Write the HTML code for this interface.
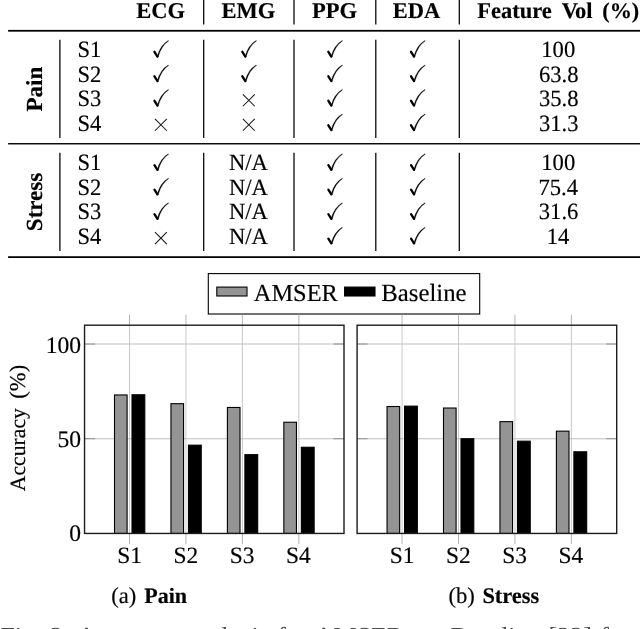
<!DOCTYPE html>
<html><head><meta charset="utf-8"><title>figure</title>
<style>
html,body{margin:0;padding:0;background:#fff;}
body{width:640px;height:629px;overflow:hidden;font-family:"Liberation Serif",serif;}
svg{display:block;font-family:"Liberation Serif",serif;will-change:transform;}
svg text{fill:#000;stroke:#000;stroke-width:0.16px;text-rendering:geometricPrecision;}
</style></head><body>
<svg width="640" height="629" viewBox="0 0 640 629">
<rect width="640" height="629" fill="#fff"/>
<text x="136.21" y="17.70" font-size="22.5" font-weight="bold" >ECG</text>
<text x="221.47" y="17.70" font-size="22.5" font-weight="bold" >EMG</text>
<text x="311.99" y="17.70" font-size="22.5" font-weight="bold" >PPG</text>
<text x="392.86" y="17.70" font-size="22.5" font-weight="bold" >EDA</text>
<text x="477.27" y="17.70" font-size="22.5" font-weight="bold" >Feature</text>
<text x="561.8" y="17.7" font-size="22.5" font-weight="bold">V<tspan dx="-0.9">ol</tspan></text>
<text x="602.31" y="17.70" font-size="22.2" font-weight="bold" >(%)</text>
<line x1="203.7" y1="0" x2="203.7" y2="24.6" stroke="#000" stroke-width="1.25"/>
<line x1="294.0" y1="0" x2="294.0" y2="24.6" stroke="#000" stroke-width="1.25"/>
<line x1="375.8" y1="0" x2="375.8" y2="24.6" stroke="#000" stroke-width="1.25"/>
<line x1="459.3" y1="0" x2="459.3" y2="24.6" stroke="#000" stroke-width="1.25"/>
<line x1="59.9" y1="39.8" x2="59.9" y2="138.0" stroke="#000" stroke-width="1.25"/>
<line x1="59.9" y1="152.8" x2="59.9" y2="251.0" stroke="#000" stroke-width="1.25"/>
<line x1="203.7" y1="39.8" x2="203.7" y2="138.0" stroke="#000" stroke-width="1.25"/>
<line x1="203.7" y1="152.8" x2="203.7" y2="251.0" stroke="#000" stroke-width="1.25"/>
<line x1="294.0" y1="39.8" x2="294.0" y2="138.0" stroke="#000" stroke-width="1.25"/>
<line x1="294.0" y1="152.8" x2="294.0" y2="251.0" stroke="#000" stroke-width="1.25"/>
<line x1="375.8" y1="39.8" x2="375.8" y2="138.0" stroke="#000" stroke-width="1.25"/>
<line x1="375.8" y1="152.8" x2="375.8" y2="251.0" stroke="#000" stroke-width="1.25"/>
<line x1="459.3" y1="39.8" x2="459.3" y2="138.0" stroke="#000" stroke-width="1.25"/>
<line x1="459.3" y1="152.8" x2="459.3" y2="251.0" stroke="#000" stroke-width="1.25"/>
<rect x="8.1" y="29.9" width="632" height="1.75" fill="#000"/>
<rect x="8.1" y="143.05" width="632" height="1.4" fill="#000"/>
<rect x="8.1" y="256.25" width="632" height="1.75" fill="#000"/>
<text transform="translate(42.20,111.43) rotate(-90)" font-size="23.0" font-weight="bold">Pain</text>
<text transform="translate(42.20,231.15) rotate(-90)" font-size="23.0" font-weight="bold">Stress</text>
<text transform="translate(77.44,57.00) scale(0.97,1)" font-size="23.3" >S1</text>
<path d="M154.45,51.80 L157.45,56.55" stroke="#000" stroke-width="2.3" stroke-linecap="round" fill="none"/>
<path d="M156.95,57.05 Q160.35,44.90 168.30,40.50 L168.60,41.00 Q161.45,45.60 158.25,56.85 Z" fill="#000" stroke="#000" stroke-width="0.3" stroke-linejoin="round"/>
<path d="M242.35,51.80 L245.35,56.55" stroke="#000" stroke-width="2.3" stroke-linecap="round" fill="none"/>
<path d="M244.85,57.05 Q248.25,44.90 256.20,40.50 L256.50,41.00 Q249.35,45.60 246.15,56.85 Z" fill="#000" stroke="#000" stroke-width="0.3" stroke-linejoin="round"/>
<path d="M328.35,51.80 L331.35,56.55" stroke="#000" stroke-width="2.3" stroke-linecap="round" fill="none"/>
<path d="M330.85,57.05 Q334.25,44.90 342.20,40.50 L342.50,41.00 Q335.35,45.60 332.15,56.85 Z" fill="#000" stroke="#000" stroke-width="0.3" stroke-linejoin="round"/>
<path d="M411.05,51.80 L414.05,56.55" stroke="#000" stroke-width="2.3" stroke-linecap="round" fill="none"/>
<path d="M413.55,57.05 Q416.95,44.90 424.90,40.50 L425.20,41.00 Q418.05,45.60 414.85,56.85 Z" fill="#000" stroke="#000" stroke-width="0.3" stroke-linejoin="round"/>
<text transform="translate(541.28,57.00) scale(0.97,1)" font-size="23.3" >100</text>
<text transform="translate(77.44,81.50) scale(0.97,1)" font-size="23.3" >S2</text>
<path d="M154.45,76.30 L157.45,81.05" stroke="#000" stroke-width="2.3" stroke-linecap="round" fill="none"/>
<path d="M156.95,81.55 Q160.35,69.40 168.30,65.00 L168.60,65.50 Q161.45,70.10 158.25,81.35 Z" fill="#000" stroke="#000" stroke-width="0.3" stroke-linejoin="round"/>
<path d="M242.35,76.30 L245.35,81.05" stroke="#000" stroke-width="2.3" stroke-linecap="round" fill="none"/>
<path d="M244.85,81.55 Q248.25,69.40 256.20,65.00 L256.50,65.50 Q249.35,70.10 246.15,81.35 Z" fill="#000" stroke="#000" stroke-width="0.3" stroke-linejoin="round"/>
<path d="M328.35,76.30 L331.35,81.05" stroke="#000" stroke-width="2.3" stroke-linecap="round" fill="none"/>
<path d="M330.85,81.55 Q334.25,69.40 342.20,65.00 L342.50,65.50 Q335.35,70.10 332.15,81.35 Z" fill="#000" stroke="#000" stroke-width="0.3" stroke-linejoin="round"/>
<path d="M411.05,76.30 L414.05,81.05" stroke="#000" stroke-width="2.3" stroke-linecap="round" fill="none"/>
<path d="M413.55,81.55 Q416.95,69.40 424.90,65.00 L425.20,65.50 Q418.05,70.10 414.85,81.35 Z" fill="#000" stroke="#000" stroke-width="0.3" stroke-linejoin="round"/>
<text transform="translate(538.91,81.50) scale(0.97,1)" font-size="23.3" >63.8</text>
<text transform="translate(77.44,106.00) scale(0.97,1)" font-size="23.3" >S3</text>
<path d="M154.45,100.80 L157.45,105.55" stroke="#000" stroke-width="2.3" stroke-linecap="round" fill="none"/>
<path d="M156.95,106.05 Q160.35,93.90 168.30,89.50 L168.60,90.00 Q161.45,94.60 158.25,105.85 Z" fill="#000" stroke="#000" stroke-width="0.3" stroke-linejoin="round"/>
<path d="M242.85,94.35 L254.75,106.25 M242.85,106.25 L254.75,94.35" stroke="#151515" stroke-width="1.05" fill="none"/>
<path d="M328.35,100.80 L331.35,105.55" stroke="#000" stroke-width="2.3" stroke-linecap="round" fill="none"/>
<path d="M330.85,106.05 Q334.25,93.90 342.20,89.50 L342.50,90.00 Q335.35,94.60 332.15,105.85 Z" fill="#000" stroke="#000" stroke-width="0.3" stroke-linejoin="round"/>
<path d="M411.05,100.80 L414.05,105.55" stroke="#000" stroke-width="2.3" stroke-linecap="round" fill="none"/>
<path d="M413.55,106.05 Q416.95,93.90 424.90,89.50 L425.20,90.00 Q418.05,94.60 414.85,105.85 Z" fill="#000" stroke="#000" stroke-width="0.3" stroke-linejoin="round"/>
<text transform="translate(538.91,106.00) scale(0.97,1)" font-size="23.3" >35.8</text>
<text transform="translate(77.44,130.50) scale(0.97,1)" font-size="23.3" >S4</text>
<path d="M154.95,118.85 L166.85,130.75 M154.95,130.75 L166.85,118.85" stroke="#151515" stroke-width="1.05" fill="none"/>
<path d="M242.85,118.85 L254.75,130.75 M242.85,130.75 L254.75,118.85" stroke="#151515" stroke-width="1.05" fill="none"/>
<path d="M328.35,125.30 L331.35,130.05" stroke="#000" stroke-width="2.3" stroke-linecap="round" fill="none"/>
<path d="M330.85,130.55 Q334.25,118.40 342.20,114.00 L342.50,114.50 Q335.35,119.10 332.15,130.35 Z" fill="#000" stroke="#000" stroke-width="0.3" stroke-linejoin="round"/>
<path d="M411.05,125.30 L414.05,130.05" stroke="#000" stroke-width="2.3" stroke-linecap="round" fill="none"/>
<path d="M413.55,130.55 Q416.95,118.40 424.90,114.00 L425.20,114.50 Q418.05,119.10 414.85,130.35 Z" fill="#000" stroke="#000" stroke-width="0.3" stroke-linejoin="round"/>
<text transform="translate(538.91,130.50) scale(0.97,1)" font-size="23.3" >31.3</text>
<text transform="translate(77.44,170.30) scale(0.97,1)" font-size="23.3" >S1</text>
<path d="M154.45,165.10 L157.45,169.85" stroke="#000" stroke-width="2.3" stroke-linecap="round" fill="none"/>
<path d="M156.95,170.35 Q160.35,158.20 168.30,153.80 L168.60,154.30 Q161.45,158.90 158.25,170.15 Z" fill="#000" stroke="#000" stroke-width="0.3" stroke-linejoin="round"/>
<text transform="translate(228.94,170.30) scale(0.97,1)" font-size="23.3" >N/A</text>
<path d="M328.35,165.10 L331.35,169.85" stroke="#000" stroke-width="2.3" stroke-linecap="round" fill="none"/>
<path d="M330.85,170.35 Q334.25,158.20 342.20,153.80 L342.50,154.30 Q335.35,158.90 332.15,170.15 Z" fill="#000" stroke="#000" stroke-width="0.3" stroke-linejoin="round"/>
<path d="M411.05,165.10 L414.05,169.85" stroke="#000" stroke-width="2.3" stroke-linecap="round" fill="none"/>
<path d="M413.55,170.35 Q416.95,158.20 424.90,153.80 L425.20,154.30 Q418.05,158.90 414.85,170.15 Z" fill="#000" stroke="#000" stroke-width="0.3" stroke-linejoin="round"/>
<text transform="translate(541.28,170.30) scale(0.97,1)" font-size="23.3" >100</text>
<text transform="translate(77.44,194.80) scale(0.97,1)" font-size="23.3" >S2</text>
<path d="M154.45,189.60 L157.45,194.35" stroke="#000" stroke-width="2.3" stroke-linecap="round" fill="none"/>
<path d="M156.95,194.85 Q160.35,182.70 168.30,178.30 L168.60,178.80 Q161.45,183.40 158.25,194.65 Z" fill="#000" stroke="#000" stroke-width="0.3" stroke-linejoin="round"/>
<text transform="translate(228.94,194.80) scale(0.97,1)" font-size="23.3" >N/A</text>
<path d="M328.35,189.60 L331.35,194.35" stroke="#000" stroke-width="2.3" stroke-linecap="round" fill="none"/>
<path d="M330.85,194.85 Q334.25,182.70 342.20,178.30 L342.50,178.80 Q335.35,183.40 332.15,194.65 Z" fill="#000" stroke="#000" stroke-width="0.3" stroke-linejoin="round"/>
<path d="M411.05,189.60 L414.05,194.35" stroke="#000" stroke-width="2.3" stroke-linecap="round" fill="none"/>
<path d="M413.55,194.85 Q416.95,182.70 424.90,178.30 L425.20,178.80 Q418.05,183.40 414.85,194.65 Z" fill="#000" stroke="#000" stroke-width="0.3" stroke-linejoin="round"/>
<text transform="translate(538.46,194.80) scale(0.97,1)" font-size="23.3" >75.4</text>
<text transform="translate(77.44,219.30) scale(0.97,1)" font-size="23.3" >S3</text>
<path d="M154.45,214.10 L157.45,218.85" stroke="#000" stroke-width="2.3" stroke-linecap="round" fill="none"/>
<path d="M156.95,219.35 Q160.35,207.20 168.30,202.80 L168.60,203.30 Q161.45,207.90 158.25,219.15 Z" fill="#000" stroke="#000" stroke-width="0.3" stroke-linejoin="round"/>
<text transform="translate(228.94,219.30) scale(0.97,1)" font-size="23.3" >N/A</text>
<path d="M328.35,214.10 L331.35,218.85" stroke="#000" stroke-width="2.3" stroke-linecap="round" fill="none"/>
<path d="M330.85,219.35 Q334.25,207.20 342.20,202.80 L342.50,203.30 Q335.35,207.90 332.15,219.15 Z" fill="#000" stroke="#000" stroke-width="0.3" stroke-linejoin="round"/>
<path d="M411.05,214.10 L414.05,218.85" stroke="#000" stroke-width="2.3" stroke-linecap="round" fill="none"/>
<path d="M413.55,219.35 Q416.95,207.20 424.90,202.80 L425.20,203.30 Q418.05,207.90 414.85,219.15 Z" fill="#000" stroke="#000" stroke-width="0.3" stroke-linejoin="round"/>
<text transform="translate(538.80,219.30) scale(0.97,1)" font-size="23.3" >31.6</text>
<text transform="translate(77.44,243.80) scale(0.97,1)" font-size="23.3" >S4</text>
<path d="M154.95,232.15 L166.85,244.05 M154.95,244.05 L166.85,232.15" stroke="#151515" stroke-width="1.05" fill="none"/>
<text transform="translate(228.94,243.80) scale(0.97,1)" font-size="23.3" >N/A</text>
<path d="M328.35,238.60 L331.35,243.35" stroke="#000" stroke-width="2.3" stroke-linecap="round" fill="none"/>
<path d="M330.85,243.85 Q334.25,231.70 342.20,227.30 L342.50,227.80 Q335.35,232.40 332.15,243.65 Z" fill="#000" stroke="#000" stroke-width="0.3" stroke-linejoin="round"/>
<path d="M411.05,238.60 L414.05,243.35" stroke="#000" stroke-width="2.3" stroke-linecap="round" fill="none"/>
<path d="M413.55,243.85 Q416.95,231.70 424.90,227.30 L425.20,227.80 Q418.05,232.40 414.85,243.65 Z" fill="#000" stroke="#000" stroke-width="0.3" stroke-linejoin="round"/>
<text transform="translate(546.71,243.80) scale(0.97,1)" font-size="23.3" >14</text>
<rect x="208.3" y="273.6" width="271.4" height="40.4" fill="#fff" stroke="#000" stroke-width="1.1"/>
<rect x="216.8" y="287.1" width="30.2" height="8.9" fill="#949494" stroke="#000" stroke-width="1.1"/>
<text x="253.80" y="301.00" font-size="24.4" >AMSER</text>
<rect x="344.6" y="287.1" width="30.4" height="8.9" fill="#000" stroke="#000" stroke-width="1.1"/>
<text x="381.20" y="301.00" font-size="24.8" >Baseline</text>
<line x1="129.50" y1="325.2" x2="129.50" y2="533.45" stroke="#c9c9c9" stroke-width="1"/>
<line x1="185.95" y1="325.2" x2="185.95" y2="533.45" stroke="#c9c9c9" stroke-width="1"/>
<line x1="242.40" y1="325.2" x2="242.40" y2="533.45" stroke="#c9c9c9" stroke-width="1"/>
<line x1="298.85" y1="325.2" x2="298.85" y2="533.45" stroke="#c9c9c9" stroke-width="1"/>
<line x1="84.55" y1="438.73" x2="344.0" y2="438.73" stroke="#c0c0c0" stroke-width="1.1"/>
<line x1="84.55" y1="438.73" x2="95.05" y2="438.73" stroke="#909090" stroke-width="1"/>
<line x1="333.5" y1="438.73" x2="344.0" y2="438.73" stroke="#909090" stroke-width="1"/>
<line x1="84.55" y1="344.00" x2="344.0" y2="344.00" stroke="#c0c0c0" stroke-width="1.1"/>
<line x1="84.55" y1="344.00" x2="95.05" y2="344.00" stroke="#909090" stroke-width="1"/>
<line x1="333.5" y1="344.00" x2="344.0" y2="344.00" stroke="#909090" stroke-width="1"/>
<line x1="129.50" y1="314.59999999999997" x2="129.50" y2="325.2" stroke="#b4b4b4" stroke-width="1"/>
<line x1="129.50" y1="533.45" x2="129.50" y2="544.0500000000001" stroke="#b4b4b4" stroke-width="1"/>
<line x1="185.95" y1="314.59999999999997" x2="185.95" y2="325.2" stroke="#b4b4b4" stroke-width="1"/>
<line x1="185.95" y1="533.45" x2="185.95" y2="544.0500000000001" stroke="#b4b4b4" stroke-width="1"/>
<line x1="242.40" y1="314.59999999999997" x2="242.40" y2="325.2" stroke="#b4b4b4" stroke-width="1"/>
<line x1="242.40" y1="533.45" x2="242.40" y2="544.0500000000001" stroke="#b4b4b4" stroke-width="1"/>
<line x1="298.85" y1="314.59999999999997" x2="298.85" y2="325.2" stroke="#b4b4b4" stroke-width="1"/>
<line x1="298.85" y1="533.45" x2="298.85" y2="544.0500000000001" stroke="#b4b4b4" stroke-width="1"/>
<rect x="114.50" y="394.96" width="12.6" height="138.49" fill="#949494" stroke="#000" stroke-width="1.1"/>
<rect x="132.00" y="394.77" width="12.8" height="138.68" fill="#000" stroke="#000" stroke-width="1.1"/>
<rect x="170.95" y="403.68" width="12.6" height="129.77" fill="#949494" stroke="#000" stroke-width="1.1"/>
<rect x="188.45" y="445.17" width="12.8" height="88.28" fill="#000" stroke="#000" stroke-width="1.1"/>
<rect x="227.40" y="407.47" width="12.6" height="125.98" fill="#949494" stroke="#000" stroke-width="1.1"/>
<rect x="244.90" y="454.64" width="12.8" height="78.81" fill="#000" stroke="#000" stroke-width="1.1"/>
<rect x="283.85" y="422.24" width="12.6" height="111.21" fill="#949494" stroke="#000" stroke-width="1.1"/>
<rect x="301.35" y="447.25" width="12.8" height="86.20" fill="#000" stroke="#000" stroke-width="1.1"/>
<rect x="84.55" y="325.2" width="259.45" height="208.25000000000006" fill="none" stroke="#1c1c1c" stroke-width="1.4"/>
<text x="117.14" y="563.00" font-size="23.4" >S1</text>
<text x="173.48" y="563.00" font-size="23.4" >S2</text>
<text x="229.69" y="563.00" font-size="23.4" >S3</text>
<text x="285.91" y="563.00" font-size="23.4" >S4</text>
<line x1="402.05" y1="325.2" x2="402.05" y2="533.45" stroke="#c9c9c9" stroke-width="1"/>
<line x1="458.50" y1="325.2" x2="458.50" y2="533.45" stroke="#c9c9c9" stroke-width="1"/>
<line x1="514.95" y1="325.2" x2="514.95" y2="533.45" stroke="#c9c9c9" stroke-width="1"/>
<line x1="571.40" y1="325.2" x2="571.40" y2="533.45" stroke="#c9c9c9" stroke-width="1"/>
<line x1="357.1" y1="438.73" x2="616.7" y2="438.73" stroke="#c0c0c0" stroke-width="1.1"/>
<line x1="357.1" y1="438.73" x2="367.6" y2="438.73" stroke="#909090" stroke-width="1"/>
<line x1="606.2" y1="438.73" x2="616.7" y2="438.73" stroke="#909090" stroke-width="1"/>
<line x1="357.1" y1="344.00" x2="616.7" y2="344.00" stroke="#c0c0c0" stroke-width="1.1"/>
<line x1="357.1" y1="344.00" x2="367.6" y2="344.00" stroke="#909090" stroke-width="1"/>
<line x1="606.2" y1="344.00" x2="616.7" y2="344.00" stroke="#909090" stroke-width="1"/>
<line x1="402.05" y1="314.59999999999997" x2="402.05" y2="325.2" stroke="#b4b4b4" stroke-width="1"/>
<line x1="402.05" y1="533.45" x2="402.05" y2="544.0500000000001" stroke="#b4b4b4" stroke-width="1"/>
<line x1="458.50" y1="314.59999999999997" x2="458.50" y2="325.2" stroke="#b4b4b4" stroke-width="1"/>
<line x1="458.50" y1="533.45" x2="458.50" y2="544.0500000000001" stroke="#b4b4b4" stroke-width="1"/>
<line x1="514.95" y1="314.59999999999997" x2="514.95" y2="325.2" stroke="#b4b4b4" stroke-width="1"/>
<line x1="514.95" y1="533.45" x2="514.95" y2="544.0500000000001" stroke="#b4b4b4" stroke-width="1"/>
<line x1="571.40" y1="314.59999999999997" x2="571.40" y2="325.2" stroke="#b4b4b4" stroke-width="1"/>
<line x1="571.40" y1="533.45" x2="571.40" y2="544.0500000000001" stroke="#b4b4b4" stroke-width="1"/>
<rect x="387.05" y="406.52" width="12.6" height="126.93" fill="#949494" stroke="#000" stroke-width="1.1"/>
<rect x="404.55" y="406.14" width="12.8" height="127.31" fill="#000" stroke="#000" stroke-width="1.1"/>
<rect x="443.50" y="408.03" width="12.6" height="125.42" fill="#949494" stroke="#000" stroke-width="1.1"/>
<rect x="461.00" y="438.73" width="12.8" height="94.73" fill="#000" stroke="#000" stroke-width="1.1"/>
<rect x="499.95" y="421.67" width="12.6" height="111.78" fill="#949494" stroke="#000" stroke-width="1.1"/>
<rect x="517.45" y="441.19" width="12.8" height="92.26" fill="#000" stroke="#000" stroke-width="1.1"/>
<rect x="556.40" y="431.15" width="12.6" height="102.30" fill="#949494" stroke="#000" stroke-width="1.1"/>
<rect x="573.90" y="451.80" width="12.8" height="81.65" fill="#000" stroke="#000" stroke-width="1.1"/>
<rect x="357.1" y="325.2" width="259.6" height="208.25000000000006" fill="none" stroke="#1c1c1c" stroke-width="1.4"/>
<text x="389.69" y="563.00" font-size="23.4" >S1</text>
<text x="446.03" y="563.00" font-size="23.4" >S2</text>
<text x="502.24" y="563.00" font-size="23.4" >S3</text>
<text x="558.46" y="563.00" font-size="23.4" >S4</text>
<text x="45.71" y="352.50" font-size="23.6" >100</text>
<text x="57.51" y="446.60" font-size="23.6" >50</text>
<text x="69.31" y="541.40" font-size="23.6" >0</text>
<text transform="translate(24.70,491.20) rotate(-90)" font-size="21.7">Accuracy</text>
<text transform="translate(24.70,398.70) rotate(-90)" font-size="22.6">(%)</text>
<text x="111.30" y="603.40" font-size="22.6" >(a)</text>
<text x="144.28" y="603.40" font-size="22.0" font-weight="bold" >Pain</text>
<text x="448.50" y="603.40" font-size="22.6" >(b)</text>
<text x="482.38" y="603.40" font-size="22.4" font-weight="bold" >Stress</text>
<text x="0.4" y="645" font-size="26" word-spacing="1.9" style="fill:#4a4a4a;stroke:none">Fig. 2: Accuracy analysis for AMSER vs. Baseline [22] for</text>
</svg>
</body></html>
